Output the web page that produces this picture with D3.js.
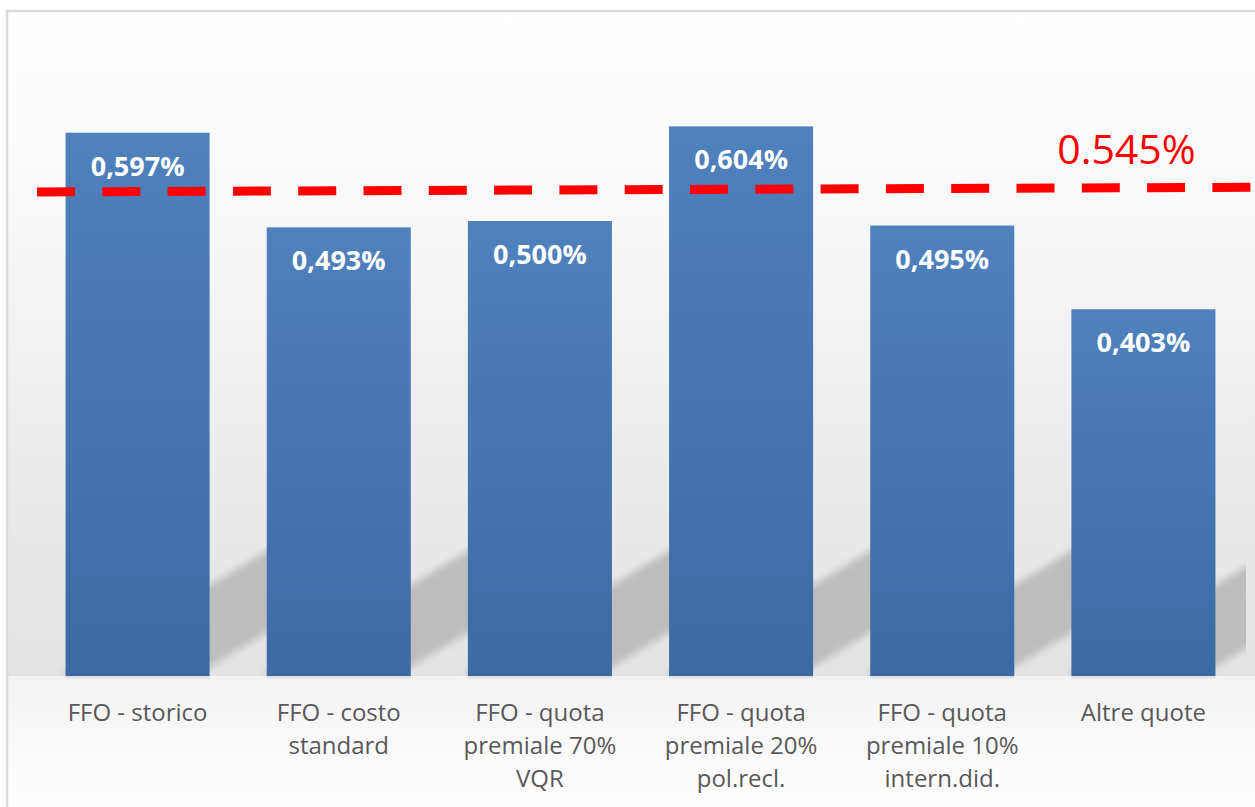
<!DOCTYPE html>
<html>
<head>
<meta charset="utf-8">
<script src="https://d3js.org/d3.v7.min.js"></script>
<style>
    body { margin: 0; background: #fff; }
    .value { fill: #fff; font-family: "Open Sans", sans-serif; font-weight: bold; font-size: 27px; }
    .cat { fill: #595959; font-family: "Open Sans", sans-serif; font-size: 24px; }
    .ref { fill: #ff0000; font-family: "Open Sans", sans-serif; font-size: 41px; }
</style>
</head>
<body>
<script>
    // categories (multi-line labels) and values in %
    var categories = [
        ["FFO - storico"],
        ["FFO - costo", "standard"],
        ["FFO - quota", "premiale 70%", "VQR"],
        ["FFO - quota", "premiale 20%", "pol.recl."],
        ["FFO - quota", "premiale 10%", "intern.did."],
        ["Altre quote"]
    ];
    var values = [0.597, 0.493, 0.500, 0.604, 0.495, 0.403];
    var valueLabels = ["0,597%", "0,493%", "0,500%", "0,604%", "0,495%", "0,403%"];

    // reference line: label value and where the drawn dash line sits (left, right)
    var refLabel = "0.545%";
    var refLineEnds = [0.532, 0.537];

    var width = 1255, height = 807;
    var svg = d3.select("body").append("svg")
        .attr("width", width)
        .attr("height", height);

    var x = d3.scaleBand()
        .domain(d3.range(values.length))
        .range([37, 1244])
        .paddingInner(0.284)
        .paddingOuter(0.142);

    var y = d3.scaleLinear()
        .domain([0, 0.7])
        .range([676, 39]);

    var defs = svg.append("defs");

    var wall = defs.append("linearGradient").attr("id", "wall")
        .attr("x1", 0).attr("y1", 0).attr("x2", 0).attr("y2", 1);
    wall.append("stop").attr("offset", "0%").attr("stop-color", "#ffffff");
    wall.append("stop").attr("offset", "30%").attr("stop-color", "#f8f8f8");
    wall.append("stop").attr("offset", "65%").attr("stop-color", "#ececec");
    wall.append("stop").attr("offset", "100%").attr("stop-color", "#e3e3e3");

    var floor = defs.append("linearGradient").attr("id", "floor")
        .attr("x1", 0).attr("y1", 0).attr("x2", 0).attr("y2", 1);
    floor.append("stop").attr("offset", "0%").attr("stop-color", "#f3f3f3");
    floor.append("stop").attr("offset", "100%").attr("stop-color", "#fefefe");

    var barGrad = defs.append("linearGradient").attr("id", "bar")
        .attr("x1", 0).attr("y1", 0).attr("x2", 0).attr("y2", 1);
    barGrad.append("stop").attr("offset", "0%").attr("stop-color", "#4f81bd");
    barGrad.append("stop").attr("offset", "100%").attr("stop-color", "#3c6aa3");

    defs.append("filter").attr("id", "blur")
        .attr("x", "-20%").attr("y", "-20%").attr("width", "140%").attr("height", "140%")
        .append("feGaussianBlur").attr("stdDeviation", 3.5);

    defs.append("clipPath").attr("id", "plotclip")
        .append("rect")
        .attr("x", x.range()[0]).attr("y", 0)
        .attr("width", 1246 - x.range()[0])
        .attr("height", y(0));

    // background: wall + floor + border
    svg.append("rect")
        .attr("x", 7).attr("y", 11)
        .attr("width", width).attr("height", y(0) - 11)
        .attr("fill", "url(#wall)");
    svg.append("rect")
        .attr("x", 7).attr("y", y(0))
        .attr("width", width).attr("height", height - y(0))
        .attr("fill", "url(#floor)");
    svg.append("rect")
        .attr("x", 7).attr("y", 11)
        .attr("width", width + 20).attr("height", height + 20)
        .attr("fill", "none")
        .attr("stroke", "#d9d9d9")
        .attr("stroke-width", 2.5);

    // perspective shadows behind the bars
    var slope = 0.6, bw = x.bandwidth();
    svg.append("g")
        .attr("clip-path", "url(#plotclip)")
        .selectAll("polygon")
        .data(values)
        .enter()
        .append("polygon")
        .attr("points", (d, i) => {
            var r = x(i) + bw, b = y(0);
            var top = b - 91, bot = b - 9;
            return [
                [r - bw, top + slope * bw],
                [r + 80, top - slope * 80],
                [r + 80, bot - slope * 80],
                [r - bw, bot + slope * bw]
            ].map(p => p.join(",")).join(" ");
        })
        .attr("fill", "#bdbdbd")
        .attr("filter", "url(#blur)");

    // faint shadow under each bar
    svg.append("g")
        .selectAll("rect")
        .data(values)
        .enter()
        .append("rect")
        .attr("x", (d, i) => x(i))
        .attr("y", y(0))
        .attr("width", bw)
        .attr("height", 2.5)
        .attr("fill", "#e0e0e0");

    // bars
    svg.append("g")
        .selectAll("rect")
        .data(values)
        .enter()
        .append("rect")
        .attr("x", (d, i) => x(i))
        .attr("y", d => y(d))
        .attr("width", bw)
        .attr("height", d => y(0) - y(d))
        .attr("fill", "url(#bar)");

    // value labels
    svg.append("g")
        .selectAll("text")
        .data(values)
        .enter()
        .append("text")
        .attr("class", "value")
        .attr("x", (d, i) => x(i) + bw / 2)
        .attr("y", d => y(d) + 43)
        .attr("text-anchor", "middle")
        .text((d, i) => valueLabels[i]);

    // category labels
    var cat = svg.append("g")
        .selectAll("text")
        .data(categories)
        .enter()
        .append("text")
        .attr("class", "cat")
        .attr("text-anchor", "middle")
        .attr("x", (d, i) => x(i) + bw / 2)
        .attr("y", y(0) + 45);
    cat.selectAll("tspan")
        .data(d => d)
        .enter()
        .append("tspan")
        .attr("x", function () { return d3.select(this.parentNode).attr("x"); })
        .attr("dy", (d, j) => j === 0 ? 0 : 33)
        .text(d => d);

    // dashed reference line
    svg.append("line")
        .attr("x1", x.range()[0])
        .attr("y1", y(refLineEnds[0]))
        .attr("x2", width)
        .attr("y2", y(refLineEnds[1]))
        .attr("stroke", "#ff0000")
        .attr("stroke-width", 9)
        .attr("stroke-dasharray", "38,27.3");

    svg.append("text")
        .attr("class", "ref")
        .attr("x", x(5) + bw / 2 - 17)
        .attr("y", 164)
        .attr("text-anchor", "middle")
        .text(refLabel);
</script>
</body>
</html>
